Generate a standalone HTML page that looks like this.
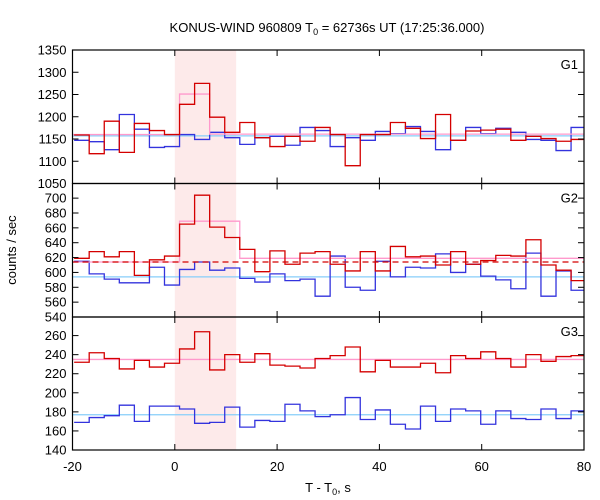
<!DOCTYPE html>
<html><head><meta charset="utf-8"><style>
body{margin:0;background:#fff;}
svg{display:block;font-family:"Liberation Sans","DejaVu Sans",sans-serif;}
</style></head><body>
<svg id="chart" width="600" height="500" xmlns="http://www.w3.org/2000/svg"></svg>
<script>
const binStart=-19.68, binW=2.944;
const g1Red=[1159,1117,1190,1120,1185,1169,1160,1228,1275,1199,1165,1187,1153,1133,1156,1145,1176,1160,1090,1160,1160,1187,1174,1151,1205,1147,1168,1170,1172,1147,1156,1151,1145,1149];
const g1Blue=[1147,1144,1126,1205,1172,1131,1133,1160,1149,1165,1153,1138,1153,1156,1136,1176,1169,1133,1153,1147,1167,1162,1178,1167,1126,1147,1176,1162,1174,1165,1149,1147,1124,1176];
const g2Red=[619,628,621,628,596,617,622,665,704,661,647,631,601,629,611,626,628,611,602,628,602,635,621,622,610,628,611,616,623,622,644,610,603,589];
const g2Blue=[615,598,591,586,586,607,583,604,614,603,606,592,587,598,589,591,568,622,580,576,615,594,607,606,625,600,611,595,590,578,626,568,602,576];
const g3Red=[232,242,236,225,234,227,231,246,264,224,240,232,241,229,228,226,236,239,248,222,234,227,227,231,221,239,236,243,236,227,240,233,238,239];
const g3Blue=[169,174,176,187,170,186,186,183,168,169,185,164,171,170,188,181,175,177,195,172,182,167,162,186,170,183,181,167,181,173,172,183,173,181];
// model lines: [tFrom, tTo, value]
const g1Pink=[[-20,0.93,1160],[0.93,6.81,1251],[6.81,80,1161]];
const g2Pink=[[-20,0.93,614],[0.93,12.7,669],[12.7,80,619]];
const g3Pink=[[-20,80,235]];
const g1Cyan=1157, g2Cyan=594, g3Cyan=177;
const g2Dash=614;
const xTicks=[-20,0,20,40,60,80];
const g1Ticks=[1050,1100,1150,1200,1250,1300,1350];
const g2Ticks=[540,560,580,600,620,640,660,680,700];
const g3Ticks=[140,160,180,200,220,240,260];

const svg=document.getElementById('chart');
const NS='http://www.w3.org/2000/svg';
const L=72.5,R=584;
const X=t=>L+(t+20)*(R-L)/100;
function mk(tag,attrs,parent){const e=document.createElementNS(NS,tag);for(const k in attrs)e.setAttribute(k,attrs[k]);(parent||svg).appendChild(e);return e;}

const panels=[
 {name:'g1',top:50,bot:183.5,min:1050,max:1350,red:g1Red,blue:g1Blue,pink:g1Pink,cyan:g1Cyan,ticks:g1Ticks},
 {name:'g2',top:183.5,bot:317,min:540,max:719.7,red:g2Red,blue:g2Blue,pink:g2Pink,cyan:g2Cyan,ticks:g2Ticks,dash:g2Dash},
 {name:'g3',top:317,bot:450,min:140,max:279.5,red:g3Red,blue:g3Blue,pink:g3Pink,cyan:g3Cyan,ticks:g3Ticks}
];

// shaded interval
const sh=mk('rect',{x:X(0),y:50,width:X(12)-X(0),height:400,fill:'#fdeaea'});



panels.forEach((p,pi)=>{
 const Y=v=>p.bot-(v-p.min)*(p.bot-p.top)/(p.max-p.min);
 const g=mk('g',{});
 
 
 const cid='clip'+pi;
 const cp=mk('clipPath',{id:cid},g);mk('rect',{x:L,y:p.top,width:R-L,height:p.bot-p.top},cp);
 const cg=mk('g',{'clip-path':'url(#'+cid+')'},g);
 function step(arr,color,name){
   let d='';
   arr.forEach((v,i)=>{const x0=X(binStart+i*binW),x1=X(binStart+(i+1)*binW),y=Y(v);d+=(i?'L':'M')+x0+','+y+'L'+x1+','+y;});
   const e=mk('path',{d:d,fill:'none',stroke:color,'stroke-width':1.3},cg);
   
   
 }
 const c=mk('line',{x1:L,x2:R,y1:Y(p.cyan),y2:Y(p.cyan),stroke:'#87cefa','stroke-width':1.3},cg);
 
 
 step(p.blue,'#3333dd',p.name+'-blue-series');
 let pd='';
 p.pink.forEach((s,i)=>{pd+=(i?'L':'M')+X(s[0])+','+Y(s[2])+'L'+X(s[1])+','+Y(s[2]);});
 const pk=mk('path',{d:pd,fill:'none',stroke:'#ff99cc','stroke-width':1.3},cg);
 
 
 step(p.red,'#d40000',p.name+'-red-series');
 if(p.dash!==undefined){
   const dl=mk('line',{x1:L,x2:R,y1:Y(p.dash),y2:Y(p.dash),stroke:'#d40000','stroke-width':1.3,'stroke-dasharray':'6,4'},cg);
   
   
 }
 const fr=mk('rect',{x:L,y:p.top,width:R-L,height:p.bot-p.top,fill:'none',stroke:'#000','stroke-width':1.2},g);
 
 
 p.ticks.forEach(v=>{
   const y=Y(v);
   mk('line',{x1:L,x2:L+6,y1:y,y2:y,stroke:'#000'},g);
   mk('line',{x1:R-6,x2:R,y1:y,y2:y,stroke:'#000'},g);
   const t=mk('text',{x:L-6,y:y+4.5,'text-anchor':'end','font-size':13,fill:'#000'},g);
   t.textContent=v;
   
   
 });
 xTicks.forEach(v=>{
   const x=X(v);
   mk('line',{x1:x,x2:x,y1:p.top,y2:p.top+6,stroke:'#000'},g);
   mk('line',{x1:x,x2:x,y1:p.bot-6,y2:p.bot,stroke:'#000'},g);
 });
 const lb=mk('text',{x:578,y:p.top+19,'text-anchor':'end','font-size':13,fill:'#000'},g);
 lb.textContent=p.name.toUpperCase();
 
 
});
xTicks.forEach(v=>{
 const t=mk('text',{x:X(v),y:471,'text-anchor':'middle','font-size':13,fill:'#000'});
 t.textContent=v;
 
 
});
</script>
<svg style="position:absolute;left:0;top:0" width="600" height="500" xmlns="http://www.w3.org/2000/svg">
<text x="327" y="32" text-anchor="middle" font-size="13" font-family="Liberation Sans, sans-serif">KONUS-WIND 960809 T<tspan font-size="9" dy="3">0</tspan><tspan dy="-3"> = 62736s UT (17:25:36.000)</tspan></text>
<text x="16" y="250" transform="rotate(-90 16 250)" text-anchor="middle" font-size="13" font-family="Liberation Sans, sans-serif">counts / sec</text>
<text x="328" y="492" text-anchor="middle" font-size="13" font-family="Liberation Sans, sans-serif">T - T<tspan font-size="9" dy="3">0</tspan><tspan dy="-3">, s</tspan></text>
</svg>
</body></html>
